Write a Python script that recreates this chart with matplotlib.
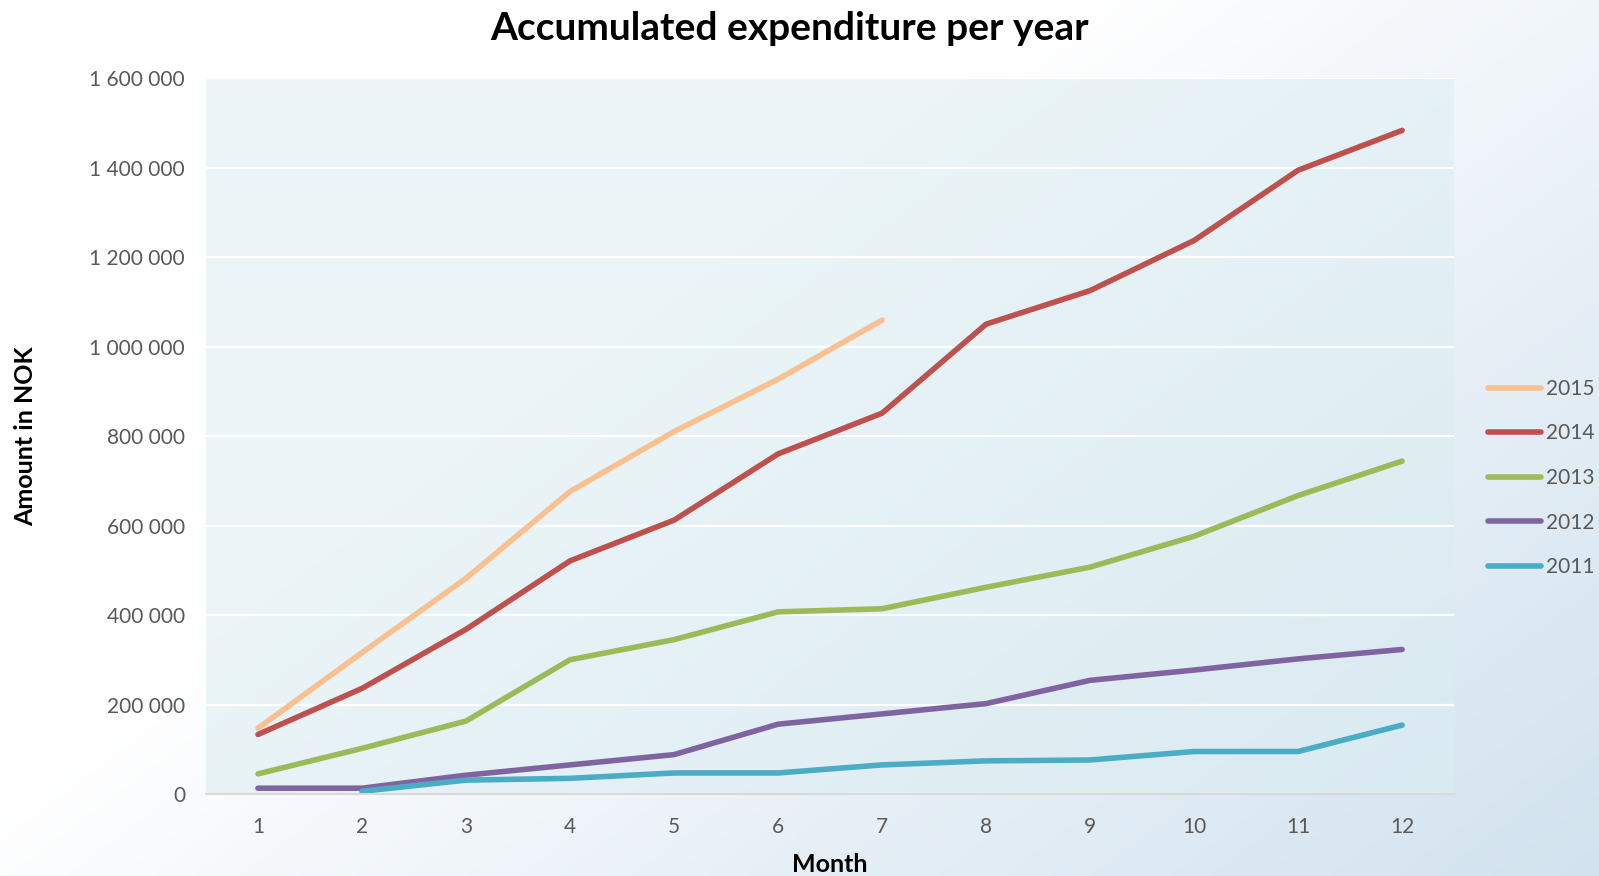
import numpy as np
import matplotlib.pyplot as plt
from matplotlib.ticker import FuncFormatter
from matplotlib.colors import LinearSegmentedColormap

plt.rcParams['font.family'] = ['Lato', 'DejaVu Sans']

months = list(range(1, 13))
years = ["2015", "2014", "2013", "2012", "2011"]
colors = ["#FAC090", "#C0504D", "#9BBB59", "#8064A2", "#4BACC6"]

y2015 = [148000, 317000, 483000, 677000, 811000, 928000, 1060000]
y2014 = [134000, 237000, 369000, 522000, 613000, 761000, 852000, 1051000,
         1126000, 1238000, 1395000, 1484000]
y2013 = [46000, 103000, 164000, 301000, 346000, 408000, 415000, 463000,
         508000, 577000, 668000, 745000]
y2012 = [14000, 14000, 43000, 66000, 89000, 157000, 180000, 203000,
         255000, 278000, 303000, 324000]
y2011 = [None, 7000, 32000, 36000, 48000, 48000, 66000, 75000,
         77000, 96000, 96000, 155000]

series = [y2015, y2014, y2013, y2012, y2011]

fig = plt.figure(figsize=(15.99, 8.76), dpi=100)

# gradient background, bluish towards bottom right
bg = fig.add_axes([0, 0, 1, 1], zorder=-10)
gx, gy = np.meshgrid(np.linspace(0, 1, 400), np.linspace(0, 1, 220))
g = np.clip((0.75 * gx + 0.55 * gy - 0.5) / 0.8, 0, 1)
cmap = LinearSegmentedColormap.from_list("bg", ["#FFFFFF", "#E8F0F7", "#D2E3EF"])
bg.imshow(g, cmap=cmap, aspect="auto", extent=[0, 1, 0, 1], origin="upper")
bg.axis("off")

ax = fig.add_axes([0.1288, 0.0931, 0.7806, 0.8173])
ax.set_facecolor((0.86, 0.93, 0.95, 0.55))

for vals, name, c in zip(series, years, colors):
    xs = [m for m, v in zip(months, vals) if v is not None]
    ys = [v for v in vals if v is not None]
    ax.plot(xs, ys, color=c, lw=4.0, label=name, solid_capstyle="round",
            solid_joinstyle="round")

ax.set_xlim(0.5, 12.5)
ax.set_ylim(0, 1600000)
ax.set_xticks(months)
ax.set_yticks(range(0, 1600001, 200000))
ax.yaxis.set_major_formatter(FuncFormatter(lambda v, p: f"{int(v):,}".replace(",", " ")))
ax.grid(axis="y", color="white", lw=1.6)
ax.set_axisbelow(True)
for s in ["top", "right", "left"]:
    ax.spines[s].set_visible(False)
ax.spines["bottom"].set_color("#D9D9D9")
ax.spines["bottom"].set_linewidth(1.5)
ax.tick_params(axis="both", length=0, labelsize=15, colors="#595959")
ax.tick_params(axis="x", pad=16)
ax.tick_params(axis="y", pad=15)

ax.set_xlabel("Month", fontsize=18, fontweight="bold", labelpad=12)
fig.text(0.016, 0.502, "Amount in NOK", rotation=90, ha="center", va="center",
         fontsize=18, fontweight="bold")

fig.text(0.494, 0.968, "Accumulated expenditure per year", ha="center", va="center",
         fontsize=28, fontweight="bold")

leg = ax.legend(loc="center left", bbox_to_anchor=(1.012, 0.442), frameon=False,
                fontsize=15, labelcolor="#595959", handlelength=2.55,
                handletextpad=0.25, labelspacing=1.18)

fig.savefig("out.png", dpi=100)
